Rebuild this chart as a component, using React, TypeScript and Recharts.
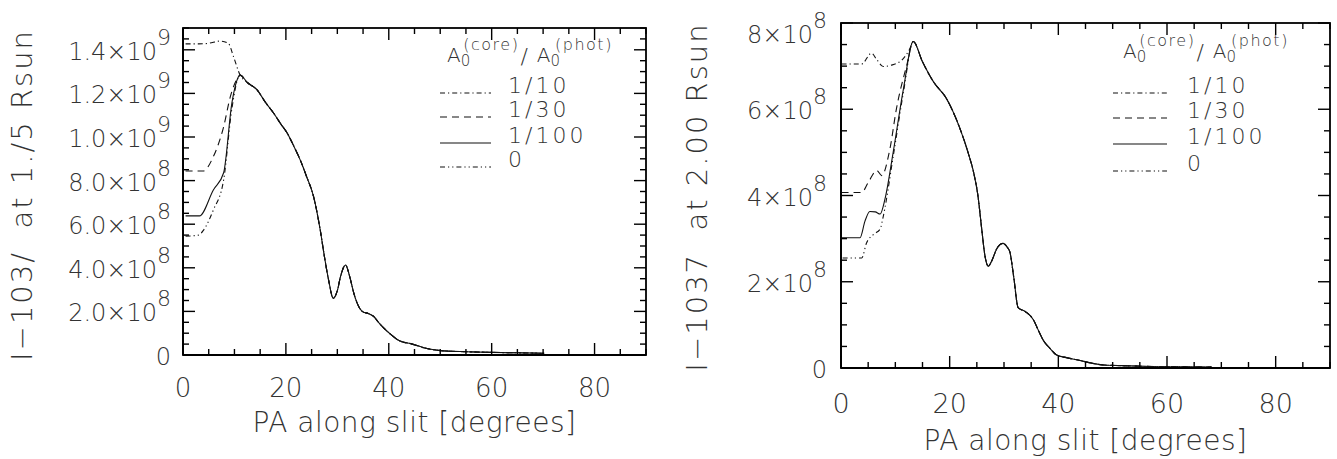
import React from 'react';
import { LineChart, Line, XAxis, YAxis } from 'recharts';

const FONT = '"DejaVu Sans", Roboto, sans-serif';
const INK = '#000';
const TEXT = '#333';

// PA along slit, degrees
const X_TICKS = [0, 5, 10, 15, 20, 25, 30, 35, 40, 45, 50, 55, 60, 65, 70, 75, 80, 85, 90];

// intensity, in units of 1e8
const L_Y_TICKS = [0, 0.5, 1, 1.5, 2, 2.5, 3, 3.5, 4, 4.5, 5, 5.5, 6, 6.5, 7, 7.5, 8, 8.5, 9, 9.5, 10, 10.5, 11, 11.5, 12, 12.5, 13, 13.5, 14, 14.5, 15];
const R_Y_TICKS = [0, 0.5, 1, 1.5, 2, 2.5, 3, 3.5, 4, 4.5, 5, 5.5, 6, 6.5, 7, 7.5, 8];

const SERIES_LABELS = ['1/10', '1/30', '1/100', '0'];
const SERIES_DASH = ['5 3 1.2 3', '7 5', undefined, '5 3 1.2 3 1.2 3'];

// left panel (1.75 Rsun): shared part after the peak
const L_TAIL_PA = [11.1, 12.5, 14.4, 16, 17.6, 19, 20.2, 21.5, 22.8, 24, 25.4, 26.7, 27.5, 28.3, 29.2, 30, 30.6, 31.6, 32.4, 33.2, 34.2, 34.9, 36, 37.1, 38, 39.1, 40.5, 42, 44.6, 47, 50.1, 55, 60, 65, 70.2];
const L_TAIL_I = [12.84, 12.5, 12.16, 11.6, 11.1, 10.6, 10.2, 9.6, 8.94, 8.2, 7.25, 5.7, 4.5, 3.44, 2.6, 2.95, 3.58, 4.13, 3.6, 2.84, 2.2, 1.99, 1.9, 1.76, 1.5, 1.22, 0.92, 0.66, 0.5, 0.32, 0.2, 0.15, 0.12, 0.1, 0.08];
// left panel heads, one per core ratio
const L_PA_10 = [0.5, 3, 5, 7.2, 8.8, 9.8];
const L_I_10 = [14.27, 14.27, 14.3, 14.4, 14.3, 13.7];
const L_PA_30 = [0.5, 3.9, 5.9, 7.9, 9.2, 10.8];
const L_I_30 = [8.44, 8.44, 9.1, 10.47, 11.85, 12.77];
const L_PA_100 = [0.5, 3.2, 5.9, 7.9, 9.5, 10.9];
const L_I_100 = [6.38, 6.38, 7.57, 8.36, 11.55, 12.8];
const L_PA_0 = [0.5, 3.0, 4.0, 5.9, 7.9, 9.5];
const L_I_0 = [5.45, 5.5, 5.73, 6.65, 8.03, 11.3];

// right panel (2.00 Rsun)
const R_TAIL_PA = [13.3, 15, 17, 19.4, 21.9, 23.5, 24.4, 25.2, 25.9, 26.5, 27.1, 27.8, 28.6, 29.8, 30.6, 31.1, 31.8, 32.6, 33.9, 35.4, 36.3, 37.2, 38.5, 39.7, 41.5, 43.4, 48.3, 53, 58.7, 63, 68.2];
const R_TAIL_I = [7.57, 7.1, 6.64, 6.25, 5.55, 4.95, 4.54, 4.0, 3.22, 2.6, 2.36, 2.5, 2.75, 2.89, 2.8, 2.68, 2.1, 1.4, 1.31, 1.12, 0.88, 0.65, 0.45, 0.3, 0.24, 0.19, 0.07, 0.05, 0.03, 0.025, 0.02];
const R_PA_10 = [0.1, 3.8, 5.6, 6.6, 7.8, 9.2, 11.2, 12.7];
const R_I_10 = [7.05, 7.05, 7.3, 7.15, 6.99, 7.02, 7.14, 7.41];
const R_PA_30 = [0.1, 3.8, 5.0, 6.6, 7.5, 9.0, 10.2, 12.1];
const R_I_30 = [4.07, 4.07, 4.3, 4.58, 4.46, 5.08, 6.01, 7.02];
const R_PA_100 = [0.1, 3.5, 4.4, 5.3, 6.3, 7.2, 8.1, 9.6, 11.5];
const R_I_100 = [3.02, 3.02, 3.4, 3.63, 3.62, 3.57, 3.92, 5.0, 6.48];
const R_PA_0 = [0.3, 3.8, 4.7, 6.0, 7.2, 7.8, 9.6, 11.5];
const R_I_0 = [2.55, 2.55, 2.9, 3.1, 3.22, 3.53, 4.9, 6.4];

const build = (pa: number[], v: number[], tailPa: number[], tailV: number[]) =>
  pa.map((p, i) => ({ pa: p, v: v[i] })).concat(tailPa.map((p, i) => ({ pa: p, v: tailV[i] })));

const LEFT_SERIES = [
  build(L_PA_10, L_I_10, L_TAIL_PA, L_TAIL_I),
  build(L_PA_30, L_I_30, L_TAIL_PA, L_TAIL_I),
  build(L_PA_100, L_I_100, L_TAIL_PA, L_TAIL_I),
  build(L_PA_0, L_I_0, L_TAIL_PA, L_TAIL_I),
];
const RIGHT_SERIES = [
  build(R_PA_10, R_I_10, R_TAIL_PA, R_TAIL_I),
  build(R_PA_30, R_I_30, R_TAIL_PA, R_TAIL_I),
  build(R_PA_100, R_I_100, R_TAIL_PA, R_TAIL_I),
  build(R_PA_0, R_I_0, R_TAIL_PA, R_TAIL_I),
];

const fmtLeft = (v: number): [string, string] =>
  v === 0 ? ['0', ''] : v >= 10 ? [(v / 10).toFixed(1) + '×10', '9'] : [v.toFixed(1) + '×10', '8'];
const fmtRight = (v: number): [string, string] => (v === 0 ? ['0', ''] : [v + '×10', '8']);

interface PanelProps {
  left: number;
  width: number;
  plot: { l: number; r: number; t: number; b: number };
  yMax: number;
  yTicks: number[];
  fmt: (v: number) => [string, string];
  yLabelRight: number;
  yLabelMinBase: number;
  xTickBase: number;
  xTickFs: number;
  xTitleBase: number;
  yTitle: { x: number; y: number; text: string };
  legend: { titleX: number; titleBase: number; x1: number; x2: number; rows: number[]; labelX: number };
  series: { pa: number; v: number }[][];
}

const Panel = (p: PanelProps) => {
  const { plot } = p;
  const tf = { fill: TEXT, fontFamily: FONT, fontWeight: 200 } as const;

  const XTick = (props: any) => {
    const { x, payload } = props;
    const v = payload.value;
    if (v % 20 !== 0) return <g />;
    return (
      <text x={x} y={p.xTickBase} textAnchor="middle" fontSize={p.xTickFs} {...tf}>
        {v}
      </text>
    );
  };
  const YTick = (props: any) => {
    const { y, payload } = props;
    const v = payload.value;
    if (v % 2 !== 0) return <g />;
    const [base, exp] = p.fmt(v);
    return (
      <text x={p.yLabelRight} y={Math.max(y + 10, p.yLabelMinBase)} textAnchor="end" fontSize={24} {...tf}>
        <tspan>{base}</tspan>
        {exp && (
          <tspan dy={-15} fontSize={22}>
            {exp}
          </tspan>
        )}
      </text>
    );
  };

  // frame: IDL-style inward ticks on all four sides, same linear mapping as the axes
  const sx = (v: number) => plot.l + (v / 90) * (plot.r - plot.l);
  const sy = (v: number) => plot.b - (v / p.yMax) * (plot.b - plot.t);
  const ln = { stroke: INK, strokeWidth: 1.4 };

  const lg = p.legend;
  const axisLine = { stroke: INK, strokeWidth: 1.8 };
  return (
    <div style={{ position: 'absolute', left: p.left, top: 0, width: p.width, height: 459 }}>
      <LineChart
        width={p.width}
        height={459}
        margin={{ top: plot.t, right: p.width - plot.r, bottom: 0, left: 0 }}
      >
        <XAxis
          type="number"
          dataKey="pa"
          domain={[0, 90]}
          ticks={X_TICKS}
          interval={0}
          height={459 - plot.b}
          axisLine={axisLine}
          tickLine={false}
          tick={XTick}
          allowDataOverflow
        />
        <YAxis
          type="number"
          domain={[0, p.yMax]}
          ticks={p.yTicks}
          interval={0}
          width={plot.l}
          axisLine={axisLine}
          tickLine={false}
          tick={YTick}
          allowDataOverflow
        />
        {p.series.map((d, i) => (
          <Line
            key={SERIES_LABELS[i]}
            data={d}
            dataKey="v"
            type="monotone"
            stroke="#111"
            strokeWidth={1.1}
            strokeDasharray={SERIES_DASH[i]}
            dot={false}
            activeDot={false}
            isAnimationActive={false}
          />
        ))}
      </LineChart>
      <svg width={p.width} height={459} style={{ position: 'absolute', left: 0, top: 0, pointerEvents: 'none' }}>
        <rect x={plot.l} y={plot.t} width={plot.r - plot.l} height={plot.b - plot.t} fill="none" stroke={INK} strokeWidth={1.8} />
        {X_TICKS.map((t) => {
          const len = t % 20 === 0 ? 12 : 6;
          const x = sx(t);
          return (
            <g key={'x' + t}>
              <line x1={x} x2={x} y1={plot.b} y2={plot.b - len} {...ln} />
              <line x1={x} x2={x} y1={plot.t} y2={plot.t + len} {...ln} />
            </g>
          );
        })}
        {p.yTicks.map((t) => {
          const len = t % 2 === 0 ? 12 : 6;
          const y = sy(t);
          return (
            <g key={'y' + t}>
              <line x1={plot.l} x2={plot.l + len} y1={y} y2={y} {...ln} />
              <line x1={plot.r} x2={plot.r - len} y1={y} y2={y} {...ln} />
            </g>
          );
        })}
        <text
          transform={`translate(${p.yTitle.x},${p.yTitle.y}) rotate(-90)`}
          textAnchor="middle"
          fontSize={29}
          letterSpacing={2}
          style={{ whiteSpace: 'pre' }}
          {...tf}
        >
          {p.yTitle.text}
        </text>
        <text x={(plot.l + plot.r) / 2} y={p.xTitleBase} textAnchor="middle" fontSize={28} letterSpacing={0.5} {...tf}>
          PA along slit [degrees]
        </text>
        <text x={lg.titleX} y={lg.titleBase} fontSize={20} {...tf}>
          <tspan>A</tspan>
          <tspan dy={4} fontSize={15}>0</tspan>
          <tspan dx={-7} dy={-16} fontSize={16} letterSpacing={1.5}>(core)</tspan>
          <tspan dx={1} dy={14} fontSize={22}>/</tspan>
          <tspan dx={9} dy={-2}>A</tspan>
          <tspan dy={4} fontSize={15}>0</tspan>
          <tspan dx={-5} dy={-16} fontSize={16} letterSpacing={1.5}>(phot)</tspan>
        </text>
        {SERIES_LABELS.map((s, i) => (
          <g key={s}>
            <line x1={lg.x1} x2={lg.x2} y1={lg.rows[i]} y2={lg.rows[i]} stroke="#111" strokeWidth={1.1} strokeDasharray={SERIES_DASH[i]} />
            <text x={lg.labelX} y={lg.rows[i]} fontSize={22} letterSpacing={3} {...tf}>
              {s}
            </text>
          </g>
        ))}
      </svg>
    </div>
  );
};

export default function App() {
  return (
    <div style={{ position: 'absolute', left: 0, top: 0, width: 1337, height: 459, background: '#fff' }}>
      <Panel
        left={0}
        width={660}
        plot={{ l: 183, r: 646, t: 28, b: 355 }}
        yMax={15}
        yTicks={L_Y_TICKS}
        fmt={fmtLeft}
        yLabelRight={171}
        yLabelMinBase={0}
        xTickBase={397}
        xTickFs={26}
        xTitleBase={432}
        yTitle={{ x: 32, y: 195, text: 'I−103/  at 1./5 Rsun' }}
        legend={{ titleX: 447, titleBase: 62, x1: 440, x2: 491, rows: [93, 117, 143, 167], labelX: 508 }}
        series={LEFT_SERIES}
      />
      <Panel
        left={670}
        width={667}
        plot={{ l: 171, r: 660, t: 23, b: 368 }}
        yMax={8}
        yTicks={R_Y_TICKS}
        fmt={fmtRight}
        yLabelRight={157}
        yLabelMinBase={43}
        xTickBase={413}
        xTickFs={27}
        xTitleBase={450}
        yTitle={{ x: 37, y: 197, text: 'I−1037  at 2.00 Rsun' }}
        legend={{ titleX: 453, titleBase: 58, x1: 443, x2: 497, rows: [93, 118, 144, 171], labelX: 517 }}
        series={RIGHT_SERIES}
      />
    </div>
  );
}
